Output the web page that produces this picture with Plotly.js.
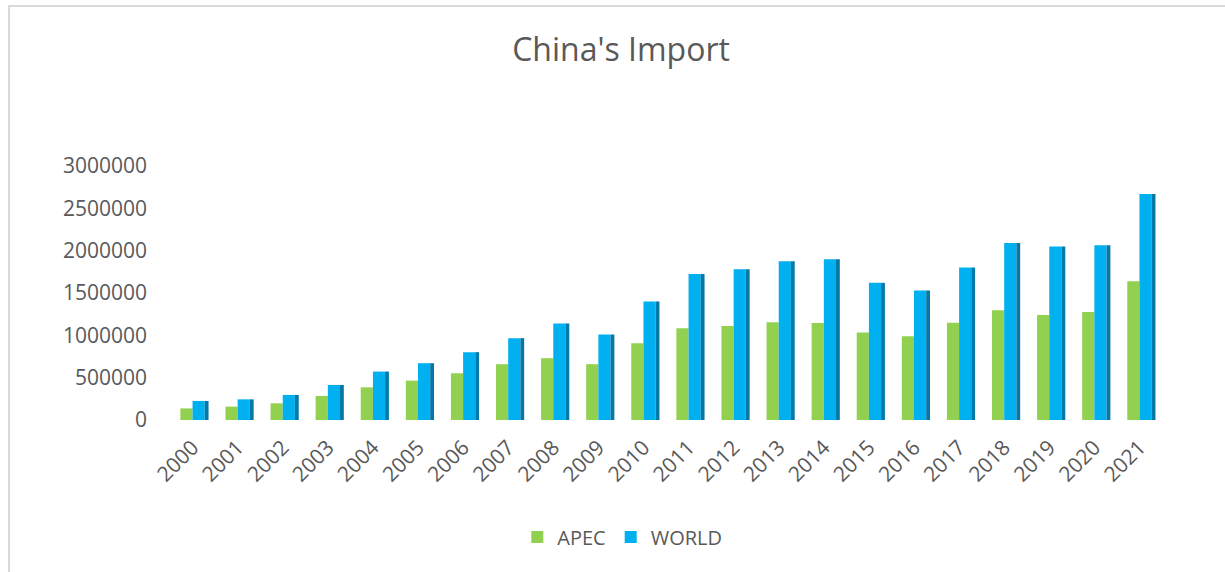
<!DOCTYPE html>
<html>
<head>
<meta charset="utf-8">
<script src="https://cdn.plot.ly/plotly-3.0.1.min.js"></script>
<style>
  html, body { margin: 0; padding: 0; background: #ffffff; }
  #chart { width: 1225px; height: 572px; }
  #frame { position: absolute; left: 8px; top: 5px; width: 1217px; height: 567px;
           border-left: 2px solid #d9d9d9; border-top: 2px solid #d9d9d9; pointer-events: none; box-sizing: border-box; }
</style>
</head>
<body>
<div id="chart"></div>
<div id="frame"></div>
<script>
const years = ["2000","2001","2002","2003","2004","2005","2006","2007","2008","2009","2010",
               "2011","2012","2013","2014","2015","2016","2017","2018","2019","2020","2021"];
const apec = [137000, 158000, 197000, 284000, 386000, 465000, 552000, 659000, 730000, 659000, 907000,
              1085000, 1110000, 1155000, 1145000, 1034000, 990000, 1150000, 1295000, 1240000, 1275000, 1640000];
const world = [225000, 244000, 296000, 414000, 572000, 671000, 801000, 967000, 1140000, 1010000, 1400000,
               1725000, 1780000, 1875000, 1900000, 1620000, 1530000, 1800000, 2090000, 2050000, 2065000, 2670000];
const yTicks = [0, 500000, 1000000, 1500000, 2000000, 2500000, 3000000];

const FONT = "Open Sans, Noto Sans, sans-serif";
const GREY = "#595959";

const traces = [
  { type: "bar", name: "APEC", x: years, y: apec, offset: -0.27, width: 0.27,
    marker: { color: "#92D050" }, hoverinfo: "x+y+name" },
  { type: "bar", name: "WORLD", x: years, y: world, offset: 0, width: 0.27,
    marker: { color: "#00B0F0" }, hoverinfo: "x+y+name" },
  { type: "bar", name: "WORLD side", x: years, y: world, offset: 0.27, width: 0.085,
    marker: { color: "#0479A8" }, showlegend: false, hoverinfo: "skip" }
];

const layout = {
  width: 1225, height: 572,
  margin: { l: 170, r: 63, t: 166, b: 152 },
  paper_bgcolor: "#ffffff", plot_bgcolor: "#ffffff",
  barmode: "overlay",
  font: { family: FONT, color: GREY, size: 20 },
  title: { text: "China's Import", font: { family: FONT, size: 32, color: GREY },
           xref: "container", x: 0.507, xanchor: "center",
           yref: "container", y: 0.9126, yanchor: "middle" },
  xaxis: { type: "category", tickangle: -45, showgrid: false, zeroline: false, showline: false,
           ticks: "", tickfont: { family: FONT, size: 21, color: GREY }, ticklabelstandoff: 10,
           range: [-0.5, 21.5] },
  yaxis: { range: [0, 3000000], tickvals: yTicks, ticktext: yTicks.map(String),
           showgrid: false, zeroline: false, showline: false, ticks: "",
           tickfont: { family: FONT, size: 21, color: GREY }, ticklabelstandoff: 22 },
  showlegend: true,
  legend: { orientation: "h", xref: "container", x: 0.508, xanchor: "center",
            yref: "container", y: 0.0612, yanchor: "middle",
            font: { family: FONT, size: 20, color: GREY }, traceorder: "normal" }
};

Plotly.newPlot("chart", traces, layout, { displayModeBar: false, staticPlot: true });
</script>
</body>
</html>
